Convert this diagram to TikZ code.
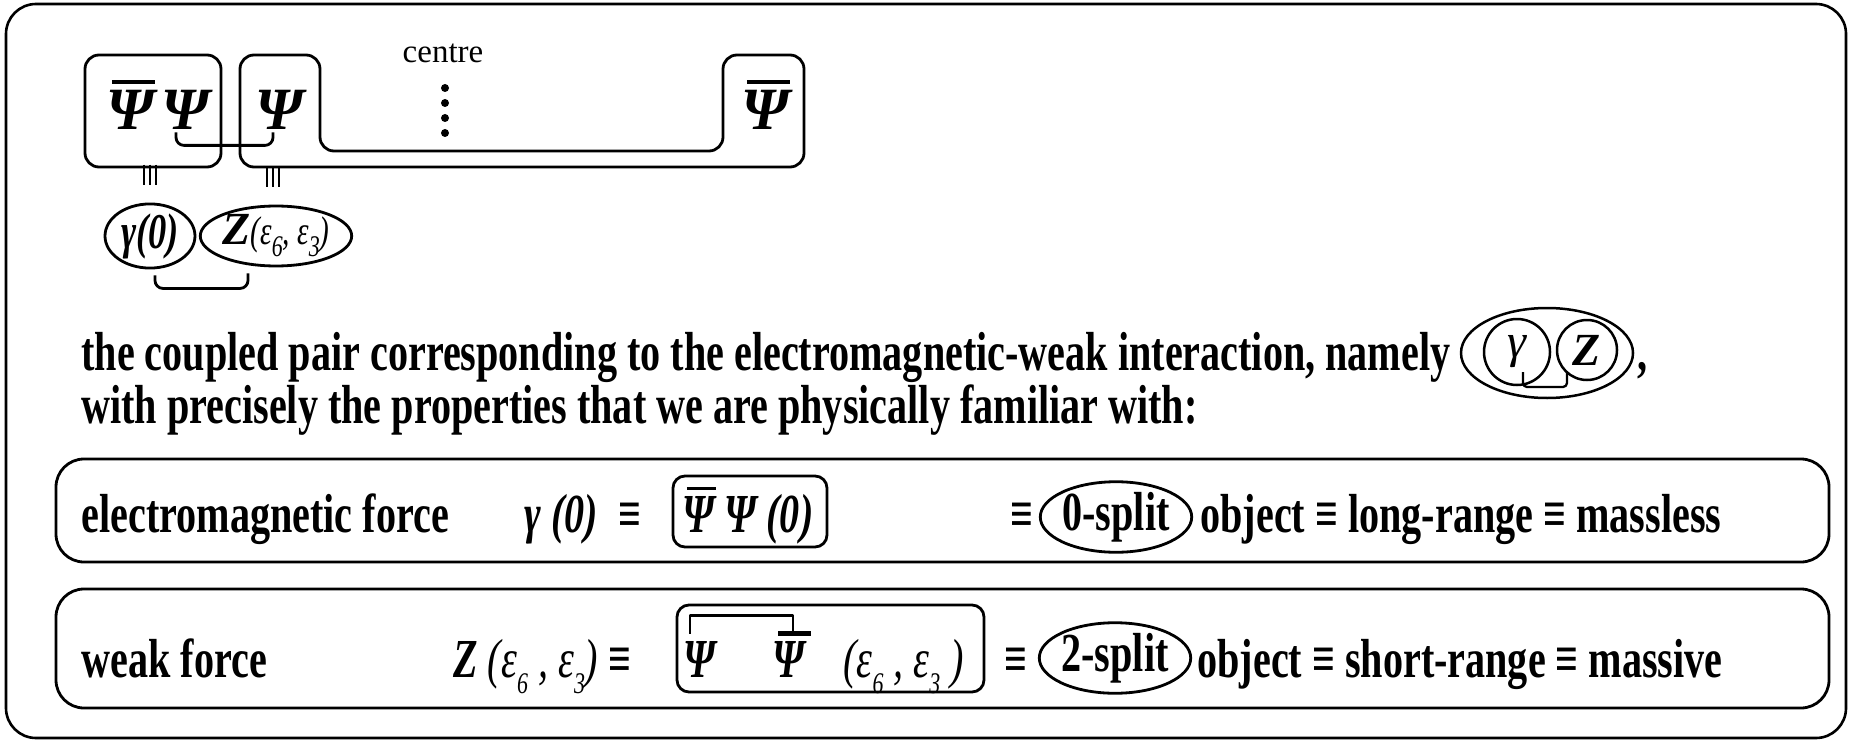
\documentclass[tikz,border=0pt]{standalone}
\usepackage{fontspec}
\setmainfont{Liberation Serif}
\newfontfamily\cf[FakeStretch=0.73]{Liberation Serif}
\usetikzlibrary{shapes.geometric}
\newcommand\bsz{\fontsize{55}{54}\selectfont}
\newcommand\obar[1]{\setbox0=\hbox{#1}\rlap{\kern0.12\wd0\raisebox{\dimexpr\ht0+0.1em\relax}{\rule{0.9\wd0}{0.065em}}}\box0}
\newcommand\lsub[1]{\raisebox{-0.3em}{\fontsize{30}{30}\selectfont #1}}
\begin{document}
\begin{tikzpicture}[x=1pt,y=-1pt,line width=2.8pt,line join=round,
  txt/.style={inner sep=0pt,anchor=base west,font=\cf\bfseries\bsz},
  ctxt/.style={txt,anchor=base},
  bigpsi/.style={inner sep=0pt,anchor=base,font=\bfseries\itshape\fontsize{60}{60}\selectfont},
  ell/.style={draw,ellipse,inner sep=0pt},
  circ/.style={draw,circle,inner sep=0pt,line width=2.5pt},
  rbox/.style={draw,rounded corners=28pt,inner sep=0pt},
  sbox/.style={draw,rounded corners=12pt,inner sep=0pt},
  bars/.style={line width=2.2pt}]
\useasboundingbox (0,0) rectangle (1852,741);
\draw[line width=2.6pt,rounded corners=30pt] (6,4) rectangle (1846,738);

% ---------- top part ----------
\node[sbox,rounded corners=14pt,minimum width=136pt,minimum height=112pt] (boxA) at (153,111) {};
\draw[rounded corners=14pt] (240,167) -- (240,55) -- (320,55) -- (320,151) -- (723,151) -- (723,55) -- (804,55) -- (804,167) -- cycle;
\node[bigpsi] (pbA) at (130,129) {\obar{Ψ}};
\node[bigpsi] (pA) at (185,129) {Ψ};
\node[bigpsi] (pB) at (279,129) {Ψ};
\node[bigpsi] (pbR) at (765,129) {\obar{Ψ}};
\draw[rounded corners=8pt] ([xshift=-9pt,yshift=-2pt]pA.south) -- ++(0,13) -| ([xshift=-6pt,yshift=-2pt]pB.south);
\node[inner sep=0pt,anchor=base,font=\fontsize{33}{33}\selectfont] (ctr) at (443,63) {centre};
\foreach \yy in {88,103,118,133} \fill (445,\yy) circle (4pt);

\node[ell,minimum width=90pt,minimum height=53pt] (gam) at (150,236) {\cf\bfseries\itshape\fontsize{50}{50}\selectfont γ(0)};
\node[ell,minimum width=144pt,minimum height=54pt] (zz) at (276,236) {{\bfseries\itshape\fontsize{46}{46}\selectfont Z}{\cf\itshape\fontsize{40}{40}\selectfont(ε\lsub{6}, ε\lsub{3})}};
\foreach \d in {-6,0,6} {
  \draw[bars] ([xshift=\d pt,yshift=38pt]gam.north) -- ([xshift=\d pt,yshift=18pt]gam.north);
  \draw[bars] ([xshift=\d pt-3pt,yshift=38pt]zz.north) -- ([xshift=\d pt-3pt,yshift=18pt]zz.north);
}
\draw[rounded corners=8pt] ([xshift=5pt,yshift=-6pt]gam.south) -- ++(0,13) -| ([xshift=-28pt,yshift=-6pt]zz.south);

% ---------- sentence ----------
\node[txt] (l1) at (80,370) {the coupled pair corresponding to the electromagnetic-weak interaction, namely};
\node[txt] (l2) at (80,423) {with precisely the properties that we are physically familiar with:};
\node[ell,line width=2.5pt,minimum width=172pt,minimum height=90pt] (pair) at (1547,353) {};
\node[circ,minimum size=66pt,font=\itshape\fontsize{48}{48}\selectfont] (gc) at (1517,352) {γ};
\node[circ,minimum size=60pt,font=\bfseries\itshape\fontsize{46}{46}\selectfont] (zc) at (1587,350) {Z};
\draw[line width=2.3pt,rounded corners=4pt] ([xshift=6pt,yshift=-20pt]gc.center) -- ++(0,15) -| ([xshift=-20pt,yshift=-22pt]zc.center);
\node[txt] (cm) at (1636,370) {,};

% ---------- electromagnetic row ----------
\node[rbox,minimum width=1773pt,minimum height=103pt] (emb) at (942.5,510.5) {};
\node[txt] (emt) at (80,532) {electromagnetic force};
\node[txt] (g0) at (523,532) {\itshape γ (0)};
\node[ctxt] (eq1) at (630,532) {≡};
\node[sbox,minimum width=154pt,minimum height=71pt] (bx1) at (750,511.5) {};
\node[ctxt] (ep1) at (699,532) {\itshape\obar{Ψ}};
\node[ctxt] (ep2) at (741,532) {\itshape Ψ};
\node[ctxt] (ep3) at (790,532) {\itshape (0)};
\node[ctxt] (eq2) at (1022,532) {≡};
\node[ell,minimum width=141pt,minimum height=58pt,font=\cf\bfseries\bsz] (s0) at (1116,517) {0-split};
\node[txt] (r1) at (1199,532) {object ≡ long-range ≡ massless};

% ---------- weak row ----------
\node[rbox,minimum width=1773pt,minimum height=119pt] (wkb) at (942.5,648.5) {};
\node[txt] (wkt) at (80,677) {weak force};
\node[txt] (zl) at (452,677) {{\itshape Z} {\mdseries\itshape (ε\lsub{6} , ε\lsub{3})} ≡};
\node[sbox,minimum width=307pt,minimum height=87pt] (bx2) at (830.5,648.5) {};
\node[ctxt] (wp1) at (700,677) {\itshape Ψ};
\node[ctxt] (wp2) at (789,677) {\itshape Ψ};
\node[txt] (wep) at (842,677) {\mdseries\itshape (ε\lsub{6} , ε\lsub{3} )};
\draw ([xshift=-10pt,yshift=6pt]wp1.north) -- ++(0,-18) -| ([xshift=4pt,yshift=6pt]wp2.north);
\draw[line width=4.5pt] ([xshift=-11pt,yshift=6pt]wp2.north) -- ([xshift=22pt,yshift=6pt]wp2.north);
\node[ctxt] (eq3) at (1016,677) {≡};
\node[ell,minimum width=139pt,minimum height=63pt,font=\cf\bfseries\bsz] (s2) at (1115,658) {2-split};
\node[txt] (r2) at (1196,677) {object ≡ short-range ≡ massive};
\end{tikzpicture}
\end{document}
